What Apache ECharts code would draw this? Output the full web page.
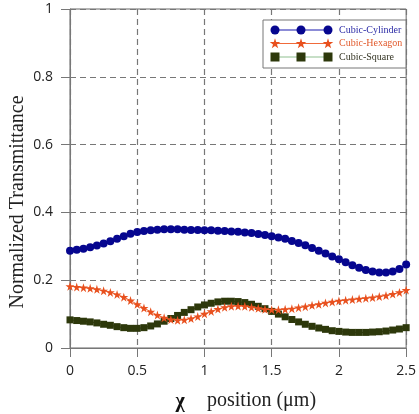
<!DOCTYPE html>
<html>
<head>
<meta charset="utf-8">
<script src="https://cdn.jsdelivr.net/npm/echarts@6/dist/echarts.min.js"></script>
<style>
  html, body { margin: 0; padding: 0; background: #fff; }
  #chart { width: 419px; height: 414px; }
</style>
</head>
<body>
<div id="chart"></div>
<script>
// x positions (um)
var xPos = [0, 0.05, 0.1, 0.15, 0.2, 0.25, 0.3, 0.35, 0.4, 0.45,
            0.5, 0.55, 0.6, 0.65, 0.7, 0.75, 0.8, 0.85, 0.9, 0.95,
            1.0, 1.05, 1.1, 1.15, 1.2, 1.25, 1.3, 1.35, 1.4, 1.45,
            1.5, 1.55, 1.6, 1.65, 1.7, 1.75, 1.8, 1.85, 1.9, 1.95,
            2.0, 2.05, 2.1, 2.15, 2.2, 2.25, 2.3, 2.35, 2.4, 2.45, 2.5];

var cylinder = [0.287, 0.290, 0.293, 0.297, 0.302, 0.308, 0.315, 0.322, 0.330, 0.337,
                0.342, 0.345, 0.347, 0.349, 0.350, 0.350, 0.350, 0.349, 0.348, 0.348,
                0.347, 0.347, 0.346, 0.345, 0.344, 0.343, 0.341, 0.339, 0.336, 0.333,
                0.330, 0.326, 0.322, 0.316, 0.310, 0.303, 0.295, 0.287, 0.279, 0.270,
                0.262, 0.253, 0.244, 0.237, 0.230, 0.226, 0.223, 0.223, 0.226, 0.233, 0.246];

var hexagon = [0.182, 0.180, 0.178, 0.176, 0.173, 0.169, 0.164, 0.158, 0.150, 0.140,
               0.129, 0.118, 0.107, 0.097, 0.089, 0.084, 0.082, 0.083, 0.087, 0.093,
               0.101, 0.108, 0.115, 0.120, 0.123, 0.124, 0.123, 0.120, 0.117, 0.114,
               0.113, 0.113, 0.114, 0.116, 0.119, 0.122, 0.126, 0.129, 0.133, 0.136,
               0.139, 0.141, 0.143, 0.145, 0.147, 0.149, 0.152, 0.155, 0.159, 0.164, 0.171];

var square = [0.083, 0.081, 0.079, 0.077, 0.074, 0.070, 0.067, 0.063, 0.060, 0.058,
              0.058, 0.060, 0.065, 0.071, 0.079, 0.087, 0.096, 0.105, 0.113, 0.121,
              0.127, 0.132, 0.136, 0.138, 0.138, 0.137, 0.134, 0.129, 0.123, 0.116,
              0.108, 0.100, 0.092, 0.084, 0.077, 0.070, 0.064, 0.059, 0.055, 0.051,
              0.049, 0.047, 0.046, 0.046, 0.046, 0.047, 0.048, 0.050, 0.053, 0.056, 0.060];

var seriesNames = ['Cubic-Cylinder', 'Cubic-Hexagon', 'Cubic-Square'];
var xTicks = ['0', '0.5', '1', '1.5', '2', '2.5'];

var starPts = [[50,0],[61,35],[98,35],[68,57],[79,91],[50,70],[21,91],[32,57],[2,35],[39,35]];
var starPath = 'M' + starPts.map(function (p) { return p[0] + ',' + p[1]; }).join(' L') + ' Z';
var colors = ['#06068f', '#e8501e', '#2d380b'];
var lineColors = ['#1a1ab0', '#f06a3a', '#8fc08f'];
var textColors = ['#2b2ba6', '#e25a2c', '#333322'];

function pairs(ys) {
    var out = [];
    for (var i = 0; i < xPos.length; i++) out.push([xPos[i], ys[i]]);
    return out;
}

function starAt(cx, cy, size) {
    return starPts.map(function (p) {
        return [cx + (p[0] - 50) * size / 100, cy + (p[1] - 48) * size / 100];
    });
}

var myChart = echarts.init(document.getElementById('chart'));

// legend built by hand (three markers per row like the original)
var legendItems = [{
    type: 'rect', shape: { x: 263, y: 20, width: 143, height: 48 },
    style: { fill: '#fff', stroke: '#777', lineWidth: 1 }, z: 100
}];
var rowY = [30, 43.5, 57];
var mx = [275, 301, 328];
for (var r = 0; r < 3; r++) {
    legendItems.push({
        type: 'line', shape: { x1: mx[0], y1: rowY[r], x2: mx[2], y2: rowY[r] },
        style: { stroke: lineColors[r], lineWidth: 1.2 }, z: 101
    });
    for (var k = 0; k < 3; k++) {
        if (r === 0) {
            legendItems.push({ type: 'circle', shape: { cx: mx[k], cy: rowY[r], r: 4.5 },
                style: { fill: colors[0] }, z: 102 });
        } else if (r === 1) {
            legendItems.push({ type: 'polygon', shape: { points: starAt(mx[k], rowY[r], 11) },
                style: { fill: colors[1] }, z: 102 });
        } else {
            legendItems.push({ type: 'rect', shape: { x: mx[k] - 4.5, y: rowY[r] - 4.5, width: 9, height: 9 },
                style: { fill: colors[2] }, z: 102 });
        }
    }
    legendItems.push({
        type: 'text', x: 339, y: rowY[r],
        style: { text: seriesNames[r], fill: textColors[r], font: '10px "Liberation Serif", serif',
                 textVerticalAlign: 'middle' }, z: 102
    });
}

var option = {
    animation: false,
    grid: { left: 70, right: 9, top: 9, bottom: 66, show: true, borderColor: '#666', borderWidth: 1 },
    xAxis: {
        type: 'value', min: 0, max: 2.5, interval: 0.5,
        axisLine: { show: true, lineStyle: { color: '#777', width: 1 } },
        axisTick: { show: true, length: 9, lineStyle: { color: '#777' } },
        axisLabel: {
            margin: 16, color: '#222', fontFamily: 'Open Sans', fontSize: 14,
            formatter: function (v) { return xTicks[Math.round(v / 0.5)]; }
        },
        splitLine: { show: true, lineStyle: { color: '#777', type: [6, 4], width: 1.2 } }
    },
    yAxis: {
        type: 'value', min: 0, max: 1, interval: 0.2,
        axisLine: { show: true, lineStyle: { color: '#777', width: 1 } },
        axisTick: { show: true, length: 9, lineStyle: { color: '#777' } },
        axisLabel: { margin: 17, color: '#222', fontFamily: 'Open Sans', fontSize: 14 },
        splitLine: { show: true, lineStyle: { color: '#777', type: [6, 4], width: 1.2 } }
    },
    series: [
        {
            name: seriesNames[0], type: 'line', data: pairs(cylinder),
            symbol: 'circle', symbolSize: 8,
            itemStyle: { color: colors[0] }, lineStyle: { color: lineColors[0], width: 1 }, z: 3
        },
        {
            name: seriesNames[1], type: 'line', data: pairs(hexagon),
            symbol: 'path://' + starPath, symbolSize: 9,
            itemStyle: { color: colors[1] }, lineStyle: { color: lineColors[1], width: 1 }, z: 4
        },
        {
            name: seriesNames[2], type: 'line', data: pairs(square),
            symbol: 'rect', symbolSize: 7,
            itemStyle: { color: colors[2] }, lineStyle: { color: colors[2], width: 1 }, z: 2
        }
    ],
    graphic: legendItems.concat([
        {
            type: 'text', x: 18, y: 202, rotation: Math.PI / 2,
            style: { text: 'Normalized Transmittance', fill: '#222', font: '20px "Liberation Serif", serif',
                     textAlign: 'center', textVerticalAlign: 'middle' }
        },
        {
            type: 'text', x: 180, y: 402,
            style: { text: 'χ', fill: '#111', font: 'bold 20px "Liberation Serif", "DejaVu Serif", serif',
                     textAlign: 'center', textVerticalAlign: 'middle' }
        },
        {
            type: 'text', x: 207, y: 401,
            style: { text: 'position (μm)', fill: '#222', font: '20px "Liberation Serif", serif',
                     textVerticalAlign: 'middle' }
        }
    ])
};
myChart.setOption(option);
</script>
</body>
</html>
